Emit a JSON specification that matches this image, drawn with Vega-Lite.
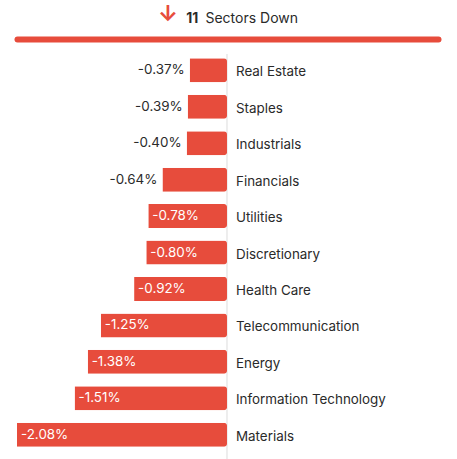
{
  "$schema": "https://vega.github.io/schema/vega-lite/v6.json",
  "autosize": {"type": "none"},
  "padding": {"left": 17, "top": 54, "right": 19, "bottom": 0},
  "width": 421,
  "height": 405,
  "background": "white",
  "config": {
    "view": {"stroke": null},
    "font": "Inter",
    "locale": {
      "number": {"decimal": ".", "thousands": ",", "grouping": [3], "currency": ["$", ""], "minus": "-"}
    }
  },
  "data": {
    "values": [
      {"sector": "Real Estate", "change": -0.0037},
      {"sector": "Staples", "change": -0.0039},
      {"sector": "Industrials", "change": -0.0040},
      {"sector": "Financials", "change": -0.0064},
      {"sector": "Utilities", "change": -0.0078},
      {"sector": "Discretionary", "change": -0.0080},
      {"sector": "Health Care", "change": -0.0092},
      {"sector": "Telecommunication", "change": -0.0125},
      {"sector": "Energy", "change": -0.0138},
      {"sector": "Information Technology", "change": -0.0151},
      {"sector": "Materials", "change": -0.0208}
    ]
  },
  "layer": [
    {
      "data": {"values": [{}]},
      "mark": {"type": "rule", "color": "#dddddd", "strokeWidth": 1},
      "encoding": {"x": {"datum": 0}}
    },
    {
      "mark": {"type": "bar", "color": "#e74c3c", "cornerRadiusEnd": 3},
      "encoding": {
        "y": {
          "field": "sector", "type": "nominal", "sort": null, "axis": null,
          "scale": {"paddingInner": 0.341, "paddingOuter": 0.228, "align": 0.26}
        },
        "x": {
          "field": "change",
          "type": "quantitative",
          "scale": {"domain": [-0.0208, 0.0209], "nice": false, "zero": false},
          "axis": {
            "orient": "top",
            "title": null,
            "grid": false,
            "values": [-0.0059, -0.0035, 0.0024],
            "labelExpr": "datum.value < -0.005 ? '↓' : datum.value < 0 ? '11' : 'Sectors Down'",
            "domainColor": "#e74c3c",
            "domainWidth": 6,
            "domainCap": "round",
            "offset": 15,
            "ticks": false,
            "tickSize": 0,
            "labelPadding": 14,
            "labelFontSize": {"condition": {"test": "datum.value < -0.005", "value": 22}, "value": 14},
            "labelColor": {"condition": {"test": "datum.value < -0.005", "value": "#e74c3c"}, "value": "#2a2a2a"},
            "labelFontWeight": {"condition": {"test": "datum.value < 0", "value": "bold"}, "value": "normal"},
            "labelOverlap": false,
            "labelFlush": false,
            "labelBound": false
          }
        }
      }
    },
    {
      "mark": {"type": "text", "align": "left", "dx": 9, "dy": 2, "fontSize": 13.4, "color": "#2a2a2a"},
      "encoding": {
        "y": {"field": "sector", "type": "nominal", "sort": null},
        "x": {"datum": 0},
        "text": {"field": "sector"}
      }
    },
    {
      "transform": [{"filter": "datum.change > -0.007"}],
      "mark": {"type": "text", "align": "right", "dx": -5, "fontSize": 13.4, "color": "#2a2a2a"},
      "encoding": {
        "y": {"field": "sector", "type": "nominal", "sort": null},
        "x": {"field": "change", "type": "quantitative"},
        "text": {"field": "change", "format": ".2%"}
      }
    },
    {
      "transform": [{"filter": "datum.change <= -0.007"}],
      "mark": {"type": "text", "align": "left", "dx": 4, "fontSize": 13.4, "color": "white"},
      "encoding": {
        "y": {"field": "sector", "type": "nominal", "sort": null},
        "x": {"field": "change", "type": "quantitative"},
        "text": {"field": "change", "format": ".2%"}
      }
    }
  ]
}
